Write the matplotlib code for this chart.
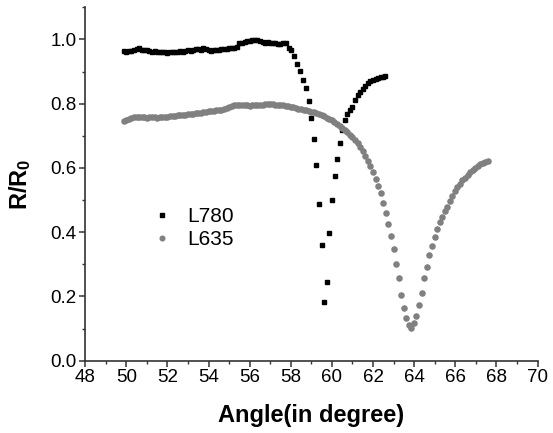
import matplotlib
matplotlib.use("Agg")
from matplotlib import pyplot as plt
from matplotlib.ticker import MultipleLocator

plt.rcParams['font.family'] = ['Liberation Sans', 'DejaVu Sans']
plt.rcParams['mathtext.default'] = 'regular'

# L780 (black squares)
x780 = [49.875, 50.0, 50.125, 50.25, 50.375, 50.5, 50.625, 50.75, 50.875, 51.0,
        51.125, 51.25, 51.375, 51.5, 51.625, 51.75, 51.875, 52.0, 52.125, 52.25,
        52.375, 52.5, 52.625, 52.75, 52.875, 53.0, 53.125, 53.25, 53.375, 53.5,
        53.625, 53.75, 53.875, 54.0, 54.125, 54.25, 54.375, 54.5, 54.625, 54.75,
        54.875, 55.0, 55.125, 55.25, 55.375, 55.5, 55.625, 55.75, 55.875, 56.0,
        56.125, 56.25, 56.375, 56.5, 56.625, 56.75, 56.875, 57.0, 57.125, 57.25,
        57.375, 57.5, 57.625, 57.75, 57.9, 58.0, 58.15, 58.3, 58.45, 58.6,
        58.75, 58.87, 59.0, 59.13, 59.24, 59.37, 59.5, 59.63, 59.74, 59.87,
        60.02, 60.13, 60.26, 60.38, 60.5, 60.64, 60.75, 60.875, 61.0, 61.125,
        61.25, 61.375, 61.5, 61.625, 61.75, 61.875, 62.0, 62.125, 62.25, 62.375,
        62.5, 62.6]
y780 = [0.963, 0.962, 0.965, 0.963, 0.966, 0.970, 0.974, 0.968, 0.966, 0.967,
        0.963, 0.962, 0.965, 0.961, 0.960, 0.962, 0.960, 0.959, 0.961, 0.962,
        0.960, 0.962, 0.963, 0.961, 0.964, 0.966, 0.964, 0.967, 0.969, 0.971,
        0.968, 0.972, 0.969, 0.966, 0.964, 0.966, 0.968, 0.967, 0.970, 0.969,
        0.971, 0.972, 0.973, 0.975, 0.976, 0.988, 0.990, 0.993, 0.995, 0.996,
        0.998, 0.999, 0.997, 0.996, 0.993, 0.990, 0.991, 0.989, 0.990, 0.988,
        0.987, 0.986, 0.990, 0.988, 0.975, 0.967, 0.949, 0.923, 0.902, 0.873,
        0.849, 0.809, 0.757, 0.690, 0.609, 0.488, 0.360, 0.182, 0.244, 0.397,
        0.501, 0.574, 0.628, 0.679, 0.718, 0.749, 0.768, 0.781, 0.790, 0.812,
        0.827, 0.837, 0.846, 0.856, 0.864, 0.870, 0.874, 0.877, 0.880, 0.882,
        0.884, 0.887]

# L635 (grey circles)
x635 = [49.875, 50.0, 50.125, 50.25, 50.375, 50.5, 50.625, 50.75, 50.875, 51.0,
        51.125, 51.25, 51.375, 51.5, 51.625, 51.75, 51.875, 52.0, 52.125, 52.25,
        52.375, 52.5, 52.625, 52.75, 52.875, 53.0, 53.125, 53.25, 53.375, 53.5,
        53.625, 53.75, 53.875, 54.0, 54.125, 54.25, 54.375, 54.5, 54.625, 54.75,
        54.875, 55.0, 55.125, 55.25, 55.375, 55.5, 55.625, 55.75, 55.875, 56.0,
        56.125, 56.25, 56.375, 56.5, 56.625, 56.75, 56.875, 57.0, 57.125, 57.25,
        57.375, 57.5, 57.625, 57.75, 57.875, 58.0, 58.125, 58.25, 58.375, 58.5,
        58.625, 58.75, 58.875, 59.0, 59.125, 59.25, 59.375, 59.5, 59.625, 59.75,
        59.875, 60.0, 60.125, 60.25, 60.375, 60.5, 60.625, 60.75, 60.875, 61.0,
        61.125, 61.25, 61.375, 61.5, 61.625, 61.75, 61.875, 62.0, 62.125, 62.25,
        62.375, 62.5, 62.625, 62.75, 62.875, 63.0, 63.125, 63.25, 63.375, 63.5,
        63.625, 63.75, 63.85, 63.98, 64.11, 64.24, 64.36, 64.48, 64.61, 64.73,
        64.86, 64.99, 65.11, 65.24, 65.37, 65.49, 65.62, 65.73, 65.84, 65.97,
        66.1, 66.22, 66.35, 66.47, 66.6, 66.72, 66.85, 66.97, 67.1, 67.22,
        67.35, 67.47, 67.6]
y635 = [0.747, 0.750, 0.753, 0.756, 0.758, 0.759, 0.758, 0.759, 0.758, 0.757,
        0.758, 0.759, 0.758, 0.757, 0.758, 0.758, 0.759, 0.760, 0.761, 0.762,
        0.763, 0.764, 0.765, 0.766, 0.766, 0.767, 0.768, 0.769, 0.770, 0.771,
        0.772, 0.774, 0.775, 0.776, 0.777, 0.778, 0.779, 0.780, 0.782, 0.785,
        0.788, 0.791, 0.794, 0.796, 0.797, 0.796, 0.795, 0.796, 0.795, 0.794,
        0.795, 0.796, 0.795, 0.796, 0.797, 0.798, 0.798, 0.798, 0.798, 0.797,
        0.797, 0.796, 0.795, 0.794, 0.793, 0.791, 0.789, 0.787, 0.785, 0.783,
        0.781, 0.779, 0.777, 0.775, 0.773, 0.771, 0.768, 0.765, 0.761, 0.757,
        0.753, 0.749, 0.744, 0.738, 0.732, 0.725, 0.718, 0.711, 0.703, 0.695,
        0.687, 0.677, 0.666, 0.653, 0.638, 0.622, 0.605, 0.586, 0.566, 0.545,
        0.521, 0.491, 0.460, 0.425, 0.388, 0.347, 0.302, 0.257, 0.206, 0.164,
        0.133, 0.112, 0.101, 0.116, 0.140, 0.174, 0.211, 0.257, 0.291, 0.330,
        0.357, 0.385, 0.409, 0.431, 0.448, 0.465, 0.480, 0.498, 0.513, 0.527,
        0.540, 0.551, 0.561, 0.570, 0.579, 0.587, 0.595, 0.601, 0.606, 0.611,
        0.615, 0.618, 0.621]

fig = plt.figure(figsize=(5.53, 4.33), dpi=100)
ax = fig.add_axes([0.154, 0.167, 0.818, 0.816])

ax.plot(x780, y780, ls='none', marker='s', ms=3.5, color='black',
        mec='black', label='L780')
ax.plot(x635, y635, ls='none', marker='o', ms=3.7, color='#808080',
        mec='#808080', label='L635')

ax.set_xlim(48, 70)
ax.set_ylim(0, 1.1)
ax.xaxis.set_major_locator(MultipleLocator(2))
ax.xaxis.set_minor_locator(MultipleLocator(1))
ax.yaxis.set_major_locator(MultipleLocator(0.2))
ax.yaxis.set_minor_locator(MultipleLocator(0.1))
ax.yaxis.set_major_formatter(plt.FormatStrFormatter('%.1f'))

for side in ('top', 'right'):
    ax.spines[side].set_visible(False)
for side in ('left', 'bottom'):
    ax.spines[side].set_color('#333333')
    ax.spines[side].set_linewidth(1.2)

ax.tick_params(which='major', direction='out', length=4, width=1.1,
               color='#333333', labelsize=13.5, pad=2)
ax.tick_params(which='minor', direction='out', length=2.5, width=1.0,
               color='#333333')

ax.set_xlabel('Angle(in degree)', fontsize=17, fontweight='bold', labelpad=13)
ax.set_ylabel('R/R$_0$', fontsize=17, fontweight='bold', labelpad=13)

ax.legend(loc='center left', bbox_to_anchor=(0.105, 0.375), frameon=False,
          fontsize=15, handletextpad=0.7, labelspacing=0.2, markerscale=0.9,
          handlelength=1.0)

fig.savefig('out.png', dpi=100)
